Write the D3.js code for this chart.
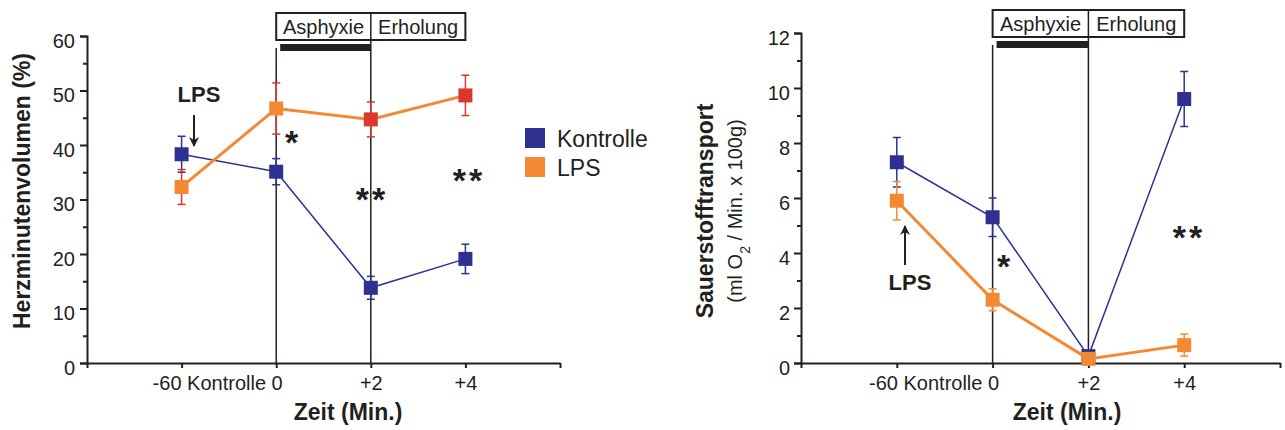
<!DOCTYPE html>
<html>
<head>
<meta charset="utf-8">
<script src="https://cdn.jsdelivr.net/npm/d3@7"></script>
<style>
  body { margin: 0; background: #fff; }
  svg text { font-family: "Liberation Sans", Arial, sans-serif; fill: #231f20; }
</style>
</head>
<body>
<div id="chart"></div>
<script>
// time points (index 0..3 on the x scale)
var categories = ["-60", "0", "+2", "+4"];
var seriesNames = ["Kontrolle", "LPS"];

// Herzminutenvolumen (%)
var hzvKontrolle = [38.3, 35.1, 13.8, 19.1];
var hzvKontrolleErr = [3.3, 2.4, 2.1, 2.7];
var hzvLps = [32.3, 46.7, 44.7, 49.1];
var hzvLpsErr = [3.2, 4.7, 3.2, 3.7];
var hzvTicks = [0, 10, 20, 30, 40, 50, 60];

// Sauerstofftransport (ml O2 / Min. x 100g)
var o2Kontrolle = [7.3, 5.3, 0.25, 9.6];
var o2KontrolleErr = [0.9, 0.7, 0.1, 1.0];
var o2Lps = [5.9, 2.3, 0.15, 0.65];
var o2LpsErr = [0.7, 0.4, 0.1, 0.4];
var o2Ticks = [0, 2, 4, 6, 8, 10, 12];

var blue = "#2e3192", orange = "#f38a33", red = "#d9382c", ink = "#231f20";

var svg = d3.select("#chart").append("svg")
    .attr("width", 1285)
    .attr("height", 430);

function drawPanel(opt) {
    var g = svg.append("g");

    var x = d3.scaleLinear().domain([-1, 4]).range([opt.x0, opt.x1]);
    var y = d3.scaleLinear().domain([0, d3.max(opt.ticks)]).range([363, opt.yTop]);

    // minor y ticks
    var step = opt.ticks[1] - opt.ticks[0];
    var minor = opt.ticks.slice(0, -1).map(function (t) { return t + step / 2; });
    g.append("g")
        .attr("transform", "translate(" + opt.x0 + ",0)")
        .call(d3.axisLeft(y).tickValues(minor).tickSize(4).tickFormat(""))
        .call(function (a) { a.select(".domain").remove(); });

    // y axis
    var yAxis = g.append("g")
        .attr("transform", "translate(" + opt.x0 + ",0)")
        .call(d3.axisLeft(y).tickValues(opt.ticks).tickSize(7).tickPadding(opt.pad));
    yAxis.selectAll("text").style("font-size", "20px").attr("dy", "0.55em");

    // x axis
    var xAxis = g.append("g")
        .attr("transform", "translate(0,363)")
        .call(d3.axisBottom(x).tickValues([-1, 0, 1, 2, 3, 4]).tickSize(5).tickSizeOuter(0)
            .tickFormat(function (d) {
                if (d === 1) return "-60 Kontrolle 0";
                if (d === 2 || d === 3) return categories[d];
                return "";
            }));
    xAxis.selectAll("text").style("font-size", "20px").attr("y", 12).attr("dy", "0.75em");
    xAxis.selectAll(".tick").filter(function (d) { return d === 1; }).select("text")
        .attr("text-anchor", "end").attr("x", 6);
    g.selectAll(".domain, .tick line").attr("stroke", ink).attr("stroke-width", 2);
    g.selectAll(".tick text").style("fill", ink);

    // phase box + vertical markers
    var bx0 = x(1), bx1 = x(2), bx2 = x(3);
    g.append("rect").attr("x", bx0).attr("y", opt.boxY).attr("width", bx2 - bx0).attr("height", 27)
        .attr("fill", "none").attr("stroke", ink).attr("stroke-width", 2);
    g.append("line").attr("x1", bx1).attr("x2", bx1).attr("y1", opt.boxY).attr("y2", 363)
        .attr("stroke", ink).attr("stroke-width", 1.5);
    g.append("line").attr("x1", bx0).attr("x2", bx0).attr("y1", opt.boxY + 35).attr("y2", 363)
        .attr("stroke", ink).attr("stroke-width", 1.5);
    g.append("rect").attr("x", bx0 + 4).attr("y", opt.boxY + 31).attr("width", bx1 - bx0 - 4).attr("height", 7)
        .attr("fill", ink);
    g.append("text").attr("x", (bx0 + bx1) / 2).attr("y", opt.boxY + 21).attr("text-anchor", "middle")
        .style("font-size", "20px").text("Asphyxie");
    g.append("text").attr("x", (bx1 + bx2) / 2).attr("y", opt.boxY + 21).attr("text-anchor", "middle")
        .style("font-size", "20px").text("Erholung");

    // series
    var line = d3.line().x(function (d, i) { return x(i); }).y(function (d) { return y(d); });
    opt.series.forEach(function (s) {
        g.append("path").datum(s.values)
            .attr("d", line).attr("fill", "none")
            .attr("stroke", s.color).attr("stroke-width", s.width);
        s.values.forEach(function (v, i) {
            var cx = x(i);
            var e = g.append("g").attr("stroke", s.errColor).attr("stroke-width", 1.5);
            e.append("line").attr("x1", cx).attr("x2", cx).attr("y1", y(v + s.err[i])).attr("y2", y(Math.max(0, v - s.err[i])));
            e.append("line").attr("x1", cx - 4).attr("x2", cx + 4).attr("y1", y(v + s.err[i])).attr("y2", y(v + s.err[i]));
            e.append("line").attr("x1", cx - 4).attr("x2", cx + 4).attr("y1", y(Math.max(0, v - s.err[i]))).attr("y2", y(Math.max(0, v - s.err[i])));
        });
        g.selectAll(null).data(s.values).enter().append("rect")
            .attr("x", function (d, i) { return x(i) - 7; })
            .attr("y", function (d) { return y(d) - 7; })
            .attr("width", 14).attr("height", 14)
            .attr("fill", function (d, i) { return s.markerColor(i); });
    });

    // significance stars
    opt.stars.forEach(function (st) {
        g.append("text").attr("x", st[0]).attr("y", st[1] + 19)
            .attr("text-anchor", "middle").style("font-size", "34px").style("font-weight", "bold")
            .style("letter-spacing", "3px").text(st[2]);
    });

    // y title
    opt.titles.forEach(function (t) {
        g.append("text")
            .attr("transform", "translate(" + t.x + "," + t.y + ") rotate(-90)")
            .attr("text-anchor", "middle")
            .style("font-size", t.size + "px").style("font-weight", t.bold ? "bold" : "normal")
            .html(t.text);
    });

    // x title
    g.append("text").attr("x", opt.xTitle).attr("y", 420).attr("text-anchor", "middle")
        .style("font-size", "23px").style("font-weight", "bold").text("Zeit (Min.)");

    return { x: x, y: y, g: g };
}

// arrowhead
svg.append("defs").append("marker")
    .attr("id", "arrow").attr("viewBox", "0 0 10 10").attr("refX", 9).attr("refY", 5)
    .attr("markerWidth", 5).attr("markerHeight", 5).attr("orient", "auto")
    .append("path").attr("d", "M0,0 L10,5 L0,10 L3,5 Z").attr("fill", ink);

var left = drawPanel({
    x0: 87, x1: 560, yTop: 36, ticks: hzvTicks, pad: 5, boxY: 13,
    series: [
        { values: hzvKontrolle, err: hzvKontrolleErr, color: blue, errColor: blue, width: 1.5,
          markerColor: function () { return blue; } },
        { values: hzvLps, err: hzvLpsErr, color: orange, errColor: red, width: 3,
          markerColor: function (i) { return i >= 2 ? red : orange; } }
    ],
    stars: [[293, 135, "*"], [372, 192, "**"], [469, 173, "**"]],
    titles: [{ x: 30, y: 191, size: 23, bold: true, text: "Herzminutenvolumen (%)" }],
    xTitle: 348
});

left.g.append("text").attr("x", 199).attr("y", 102).attr("text-anchor", "middle")
    .style("font-size", "22px").style("font-weight", "bold").text("LPS");
left.g.append("line").attr("x1", 194).attr("x2", 194).attr("y1", 115).attr("y2", 146)
    .attr("stroke", ink).attr("stroke-width", 2).attr("marker-end", "url(#arrow)");

// legend
var legend = left.g.selectAll(".legend").data(seriesNames).enter().append("g")
    .attr("transform", function (d, i) { return "translate(525," + (128 + i * 29) + ")"; });
legend.append("rect").attr("width", 20).attr("height", 20)
    .attr("fill", function (d, i) { return i === 0 ? blue : orange; });
legend.append("text").attr("x", 32).attr("y", 19).style("font-size", "23px").text(function (d) { return d; });

var right = drawPanel({
    x0: 801, x1: 1280, yTop: 33, ticks: o2Ticks, pad: 4, boxY: 10,
    series: [
        { values: o2Kontrolle, err: o2KontrolleErr, color: blue, errColor: blue, width: 1.5,
          markerColor: function () { return blue; } },
        { values: o2Lps, err: o2LpsErr, color: orange, errColor: orange, width: 3,
          markerColor: function () { return orange; } }
    ],
    stars: [[1005, 259, "*"], [1189, 230, "**"]],
    titles: [
        { x: 713, y: 211, size: 23, bold: true, text: "Sauerstofftransport" },
        { x: 742, y: 211, size: 20, bold: false, text: "(ml O<tspan baseline-shift='sub' font-size='14'>2</tspan> / Min. x 100g)" }
    ],
    xTitle: 1067
});

right.g.append("text").attr("x", 910).attr("y", 290).attr("text-anchor", "middle")
    .style("font-size", "22px").style("font-weight", "bold").text("LPS");
right.g.append("line").attr("x1", 905).attr("x2", 905).attr("y1", 265).attr("y2", 226)
    .attr("stroke", ink).attr("stroke-width", 2).attr("marker-end", "url(#arrow)");
</script>
</body>
</html>
